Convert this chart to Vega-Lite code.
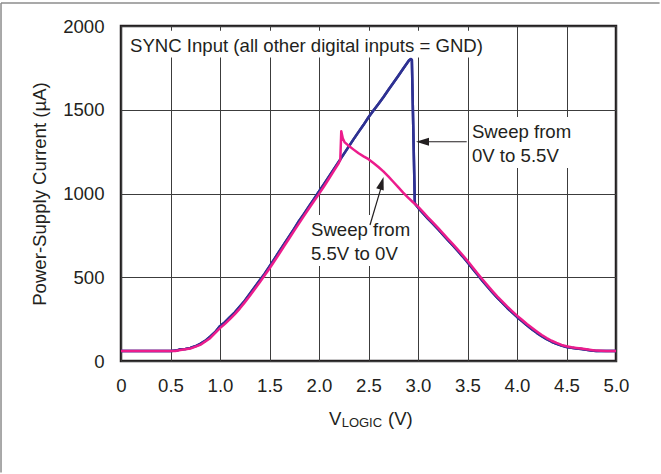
{
  "$schema": "https://vega.github.io/schema/vega-lite/v6.json",
  "width": 495,
  "height": 335,
  "autosize": {"type": "none"},
  "padding": {"left": 121, "top": 26, "right": 45, "bottom": 113},
  "background": "white",
  "config": {
    "font": "Liberation Sans",
    "view": {"stroke": "#231f20", "strokeWidth": 2.5},
    "axis": {
      "grid": true, "gridColor": "#3c3c3c", "gridWidth": 1, "gridOpacity": 1,
      "domain": false, "ticks": false, "tickSize": 0, "labelFlush": false,
      "labelFont": "Liberation Sans", "labelFontSize": 18.6, "labelColor": "#231f20",
      "titleFont": "Liberation Sans", "titleFontSize": 18.6, "titleFontWeight": "normal", "titleColor": "#231f20"
    },
    "text": {"font": "Liberation Sans", "fontSize": 18.6, "color": "#231f20"}
  },
  "resolve": {"axis": {"x": "independent", "y": "independent"}},
  "data": {"values": [
    {"s":"up","v":0,"i":60},{"s":"up","v":0.5,"i":60},{"s":"up","v":0.56,"i":62},{"s":"up","v":0.6,"i":70},{"s":"up","v":0.65,"i":72},{"s":"up","v":0.7,"i":78},{"s":"up","v":0.75,"i":88},{"s":"up","v":0.8,"i":102},{"s":"up","v":0.85,"i":120},{"s":"up","v":0.9,"i":145},{"s":"up","v":0.95,"i":172},{"s":"up","v":1.0,"i":208},{"s":"up","v":1.05,"i":232},{"s":"up","v":1.1,"i":262},{"s":"up","v":1.15,"i":290},{"s":"up","v":1.2,"i":325},{"s":"up","v":1.25,"i":360},{"s":"up","v":1.3,"i":400},{"s":"up","v":1.35,"i":440},{"s":"up","v":1.4,"i":480},{"s":"up","v":1.45,"i":520},{"s":"up","v":1.5,"i":565},{"s":"up","v":1.55,"i":610},{"s":"up","v":1.6,"i":655},{"s":"up","v":1.65,"i":700},{"s":"up","v":1.7,"i":745},{"s":"up","v":1.75,"i":790},{"s":"up","v":1.8,"i":838},{"s":"up","v":1.85,"i":880},{"s":"up","v":1.9,"i":925},{"s":"up","v":1.95,"i":968},{"s":"up","v":2.0,"i":1012},{"s":"up","v":2.05,"i":1055},{"s":"up","v":2.1,"i":1100},{"s":"up","v":2.15,"i":1145},{"s":"up","v":2.2,"i":1190},{"s":"up","v":2.25,"i":1235},{"s":"up","v":2.3,"i":1280},{"s":"up","v":2.35,"i":1325},{"s":"up","v":2.4,"i":1368},{"s":"up","v":2.45,"i":1410},{"s":"up","v":2.5,"i":1455},{"s":"up","v":2.55,"i":1495},{"s":"up","v":2.6,"i":1535},{"s":"up","v":2.65,"i":1575},{"s":"up","v":2.7,"i":1618},{"s":"up","v":2.75,"i":1660},{"s":"up","v":2.8,"i":1702},{"s":"up","v":2.85,"i":1745},{"s":"up","v":2.88,"i":1770},{"s":"up","v":2.91,"i":1795},{"s":"up","v":2.928,"i":1803},{"s":"up","v":2.938,"i":1798},{"s":"up","v":2.968,"i":940},{"s":"up","v":3.0,"i":916},{"s":"up","v":3.05,"i":883},{"s":"up","v":3.1,"i":850},{"s":"up","v":3.15,"i":820},{"s":"up","v":3.2,"i":788},{"s":"up","v":3.25,"i":755},{"s":"up","v":3.3,"i":723},{"s":"up","v":3.35,"i":691},{"s":"up","v":3.4,"i":658},{"s":"up","v":3.45,"i":625},{"s":"up","v":3.5,"i":590},{"s":"up","v":3.55,"i":553},{"s":"up","v":3.6,"i":516},{"s":"up","v":3.65,"i":480},{"s":"up","v":3.7,"i":445},{"s":"up","v":3.75,"i":411},{"s":"up","v":3.8,"i":378},{"s":"up","v":3.85,"i":348},{"s":"up","v":3.9,"i":318},{"s":"up","v":3.95,"i":290},{"s":"up","v":4.0,"i":263},{"s":"up","v":4.05,"i":238},{"s":"up","v":4.1,"i":213},{"s":"up","v":4.15,"i":190},{"s":"up","v":4.2,"i":168},{"s":"up","v":4.25,"i":148},{"s":"up","v":4.3,"i":130},{"s":"up","v":4.35,"i":115},{"s":"up","v":4.4,"i":102},{"s":"up","v":4.45,"i":92},{"s":"up","v":4.5,"i":84},{"s":"up","v":4.55,"i":79},{"s":"up","v":4.6,"i":75},{"s":"up","v":4.65,"i":71},{"s":"up","v":4.7,"i":67},{"s":"up","v":4.75,"i":63},{"s":"up","v":4.8,"i":60},{"s":"up","v":4.9,"i":60},{"s":"up","v":5.0,"i":60},
    {"s":"down","v":0,"i":60},{"s":"down","v":0.55,"i":60},{"s":"down","v":0.6,"i":66},{"s":"down","v":0.7,"i":74},{"s":"down","v":0.8,"i":96},{"s":"down","v":0.9,"i":136},{"s":"down","v":1.0,"i":196},{"s":"down","v":1.05,"i":222},{"s":"down","v":1.1,"i":250},{"s":"down","v":1.15,"i":280},{"s":"down","v":1.2,"i":313},{"s":"down","v":1.25,"i":350},{"s":"down","v":1.3,"i":388},{"s":"down","v":1.35,"i":428},{"s":"down","v":1.4,"i":468},{"s":"down","v":1.45,"i":510},{"s":"down","v":1.5,"i":552},{"s":"down","v":1.55,"i":597},{"s":"down","v":1.6,"i":642},{"s":"down","v":1.65,"i":688},{"s":"down","v":1.7,"i":733},{"s":"down","v":1.75,"i":778},{"s":"down","v":1.8,"i":823},{"s":"down","v":1.85,"i":868},{"s":"down","v":1.9,"i":912},{"s":"down","v":1.95,"i":955},{"s":"down","v":2.0,"i":998},{"s":"down","v":2.05,"i":1042},{"s":"down","v":2.1,"i":1088},{"s":"down","v":2.15,"i":1135},{"s":"down","v":2.2,"i":1182},{"s":"down","v":2.215,"i":1200},{"s":"down","v":2.225,"i":1372},{"s":"down","v":2.24,"i":1330},{"s":"down","v":2.26,"i":1305},{"s":"down","v":2.3,"i":1285},{"s":"down","v":2.35,"i":1262},{"s":"down","v":2.4,"i":1240},{"s":"down","v":2.45,"i":1222},{"s":"down","v":2.5,"i":1205},{"s":"down","v":2.55,"i":1182},{"s":"down","v":2.6,"i":1158},{"s":"down","v":2.65,"i":1132},{"s":"down","v":2.7,"i":1102},{"s":"down","v":2.75,"i":1070},{"s":"down","v":2.8,"i":1038},{"s":"down","v":2.85,"i":1005},{"s":"down","v":2.9,"i":975},{"s":"down","v":2.95,"i":948},{"s":"down","v":3.0,"i":922},{"s":"down","v":3.05,"i":890},{"s":"down","v":3.1,"i":858},{"s":"down","v":3.15,"i":827},{"s":"down","v":3.2,"i":796},{"s":"down","v":3.25,"i":763},{"s":"down","v":3.3,"i":731},{"s":"down","v":3.35,"i":699},{"s":"down","v":3.4,"i":666},{"s":"down","v":3.45,"i":633},{"s":"down","v":3.5,"i":598},{"s":"down","v":3.55,"i":561},{"s":"down","v":3.6,"i":524},{"s":"down","v":3.65,"i":488},{"s":"down","v":3.7,"i":453},{"s":"down","v":3.75,"i":419},{"s":"down","v":3.8,"i":386},{"s":"down","v":3.85,"i":356},{"s":"down","v":3.9,"i":326},{"s":"down","v":3.95,"i":298},{"s":"down","v":4.0,"i":271},{"s":"down","v":4.05,"i":246},{"s":"down","v":4.1,"i":221},{"s":"down","v":4.15,"i":198},{"s":"down","v":4.2,"i":176},{"s":"down","v":4.25,"i":155},{"s":"down","v":4.3,"i":137},{"s":"down","v":4.35,"i":121},{"s":"down","v":4.4,"i":108},{"s":"down","v":4.45,"i":96},{"s":"down","v":4.5,"i":88},{"s":"down","v":4.55,"i":82},{"s":"down","v":4.6,"i":78},{"s":"down","v":4.65,"i":74},{"s":"down","v":4.7,"i":70},{"s":"down","v":4.75,"i":66},{"s":"down","v":4.8,"i":62},{"s":"down","v":4.9,"i":60},{"s":"down","v":5.0,"i":60}
  ]},
  "layer": [
    {
      "transform": [{"filter": "datum.s === 'up'"}],
      "mark": {"type": "line", "color": "#2e3192", "strokeWidth": 2.5, "strokeJoin": "round"},
      "encoding": {
        "x": {"field": "v", "type": "quantitative", "scale": {"domain": [0, 5], "nice": false},
              "axis": {"title": null, "values": [0, 0.5, 1, 1.5, 2, 2.5, 3, 3.5, 4, 4.5, 5], "labelPadding": 15, "labelFlush": false,
                       "labelExpr": "datum.value == 0 ? '0' : format(datum.value, '.1f')"}},
        "y": {"field": "i", "type": "quantitative", "scale": {"domain": [0, 2000], "nice": false},
              "axis": {"title": "Power-Supply Current (µA)", "values": [0, 500, 1000, 1500, 2000], "format": "d", "labelFlush": false, "labelPadding": 17, "titlePadding": 13}}
      }
    },
    {
      "data": {"values": [{}]},
      "mark": {"type": "rect", "fill": "white"},
      "encoding": {
        "x": {"datum": 0.05, "type": "quantitative", "scale": {"domain": [0, 5], "nice": false}, "axis": null},
        "x2": {"datum": 3.68},
        "y": {"datum": 1972, "type": "quantitative", "scale": {"domain": [0, 2000], "nice": false}, "axis": null},
        "y2": {"datum": 1812}
      }
    },
    {
      "data": {"values": [{}]},
      "mark": {"type": "rect", "fill": "white"},
      "encoding": {
        "x": {"datum": 3.52, "type": "quantitative", "scale": {"domain": [0, 5], "nice": false}, "axis": null},
        "x2": {"datum": 4.6},
        "y": {"datum": 1457, "type": "quantitative", "scale": {"domain": [0, 2000], "nice": false}, "axis": null},
        "y2": {"datum": 1152}
      }
    },
    {
      "data": {"values": [{}]},
      "mark": {"type": "rect", "fill": "white"},
      "encoding": {
        "x": {"datum": 1.9, "type": "quantitative", "scale": {"domain": [0, 5], "nice": false}, "axis": null},
        "x2": {"datum": 2.96},
        "y": {"datum": 872, "type": "quantitative", "scale": {"domain": [0, 2000], "nice": false}, "axis": null},
        "y2": {"datum": 567}
      }
    },
    {
      "transform": [{"filter": "datum.s === 'up'"}],
      "mark": {"type": "line", "color": "#2e3192", "strokeWidth": 2.5, "strokeJoin": "round"},
      "encoding": {
        "x": {"field": "v", "type": "quantitative", "scale": {"domain": [0, 5], "nice": false}, "axis": null},
        "y": {"field": "i", "type": "quantitative", "scale": {"domain": [0, 2000], "nice": false}, "axis": null}
      }
    },
    {
      "transform": [{"filter": "datum.s === 'down'"}],
      "mark": {"type": "line", "color": "#ec1c8c", "strokeWidth": 2.5, "strokeJoin": "round"},
      "encoding": {
        "x": {"field": "v", "type": "quantitative", "scale": {"domain": [0, 5], "nice": false}, "axis": null},
        "y": {"field": "i", "type": "quantitative", "scale": {"domain": [0, 2000], "nice": false}, "axis": null}
      }
    },
    {
      "data": {"values": [{}]},
      "mark": {"type": "text", "text": "SYNC Input (all other digital inputs = GND)", "align": "left", "baseline": "alphabetic"},
      "encoding": {
        "x": {"datum": 0.091, "type": "quantitative", "scale": {"domain": [0, 5], "nice": false}, "axis": null},
        "y": {"datum": 1847, "type": "quantitative", "scale": {"domain": [0, 2000], "nice": false}, "axis": null}
      }
    },
    {
      "data": {"values": [{}]},
      "mark": {"type": "text", "text": ["Sweep from", "0V to 5.5V"], "lineHeight": 23.5, "align": "left", "baseline": "alphabetic"},
      "encoding": {
        "x": {"datum": 3.545, "type": "quantitative", "scale": {"domain": [0, 5], "nice": false}, "axis": null},
        "y": {"datum": 1330, "type": "quantitative", "scale": {"domain": [0, 2000], "nice": false}, "axis": null}
      }
    },
    {
      "data": {"values": [{}]},
      "mark": {"type": "text", "text": ["Sweep from", "5.5V to 0V"], "lineHeight": 24, "align": "left", "baseline": "alphabetic"},
      "encoding": {
        "x": {"datum": 1.919, "type": "quantitative", "scale": {"domain": [0, 5], "nice": false}, "axis": null},
        "y": {"datum": 746, "type": "quantitative", "scale": {"domain": [0, 2000], "nice": false}, "axis": null}
      }
    },
    {
      "data": {"values": [{}]},
      "mark": {"type": "rule", "color": "#231f20", "strokeWidth": 1.2},
      "encoding": {
        "x": {"datum": 3.492, "type": "quantitative", "scale": {"domain": [0, 5], "nice": false}, "axis": null},
        "x2": {"datum": 3.03},
        "y": {"datum": 1309, "type": "quantitative", "scale": {"domain": [0, 2000], "nice": false}, "axis": null},
        "y2": {"datum": 1309}
      }
    },
    {
      "data": {"values": [{}]},
      "mark": {"type": "point", "shape": "M0,0L-0.6,2L0.6,2Z", "filled": true, "opacity": 1, "color": "#231f20", "size": 169, "angle": -90},
      "encoding": {
        "x": {"datum": 2.98, "type": "quantitative", "scale": {"domain": [0, 5], "nice": false}, "axis": null},
        "y": {"datum": 1309, "type": "quantitative", "scale": {"domain": [0, 2000], "nice": false}, "axis": null}
      }
    },
    {
      "data": {"values": [{}]},
      "mark": {"type": "rule", "color": "#231f20", "strokeWidth": 1.2},
      "encoding": {
        "x": {"datum": 2.515, "type": "quantitative", "scale": {"domain": [0, 5], "nice": false}, "axis": null},
        "x2": {"datum": 2.64},
        "y": {"datum": 812, "type": "quantitative", "scale": {"domain": [0, 2000], "nice": false}, "axis": null},
        "y2": {"datum": 1060}
      }
    },
    {
      "data": {"values": [{}]},
      "mark": {"type": "point", "shape": "M0,0L-0.6,2L0.6,2Z", "filled": true, "opacity": 1, "color": "#231f20", "size": 169, "angle": 16},
      "encoding": {
        "x": {"datum": 2.652, "type": "quantitative", "scale": {"domain": [0, 5], "nice": false}, "axis": null},
        "y": {"datum": 1099, "type": "quantitative", "scale": {"domain": [0, 2000], "nice": false}, "axis": null}
      }
    },
    {
      "data": {"values": [{}]},
      "mark": {"type": "text", "text": "V", "align": "left", "baseline": "alphabetic", "fontSize": 18.6},
      "encoding": {
        "x": {"datum": 2.101, "type": "quantitative", "scale": {"domain": [0, 5], "nice": false}, "axis": null},
        "y": {"datum": -382, "type": "quantitative", "scale": {"domain": [0, 2000], "nice": false}, "axis": null}
      }
    },
    {
      "data": {"values": [{}]},
      "mark": {"type": "text", "text": "LOGIC", "align": "left", "baseline": "alphabetic", "fontSize": 13},
      "encoding": {
        "x": {"datum": 2.229, "type": "quantitative", "scale": {"domain": [0, 5], "nice": false}, "axis": null},
        "y": {"datum": -394, "type": "quantitative", "scale": {"domain": [0, 2000], "nice": false}, "axis": null}
      }
    },
    {
      "data": {"values": [{}]},
      "mark": {"type": "text", "text": "(V)", "align": "left", "baseline": "alphabetic", "fontSize": 18.6},
      "encoding": {
        "x": {"datum": 2.697, "type": "quantitative", "scale": {"domain": [0, 5], "nice": false}, "axis": null},
        "y": {"datum": -382, "type": "quantitative", "scale": {"domain": [0, 2000], "nice": false}, "axis": null}
      }
    },
    {
      "data": {"values": [{}]},
      "mark": {"type": "rule", "color": "#8c8c8c", "strokeWidth": 1.5},
      "encoding": {
        "x": {"datum": -1.212, "type": "quantitative", "scale": {"domain": [0, 5], "nice": false}, "axis": null},
        "x2": {"datum": 5.44},
        "y": {"datum": 2137, "type": "quantitative", "scale": {"domain": [0, 2000], "nice": false}, "axis": null},
        "y2": {"datum": 2137}
      }
    },
    {
      "data": {"values": [{}]},
      "mark": {"type": "rule", "color": "#8c8c8c", "strokeWidth": 1.5},
      "encoding": {
        "x": {"datum": -1.212, "type": "quantitative", "scale": {"domain": [0, 5], "nice": false}, "axis": null},
        "x2": {"datum": -1.212},
        "y": {"datum": 2137, "type": "quantitative", "scale": {"domain": [0, 2000], "nice": false}, "axis": null},
        "y2": {"datum": -665}
      }
    }
  ]
}
